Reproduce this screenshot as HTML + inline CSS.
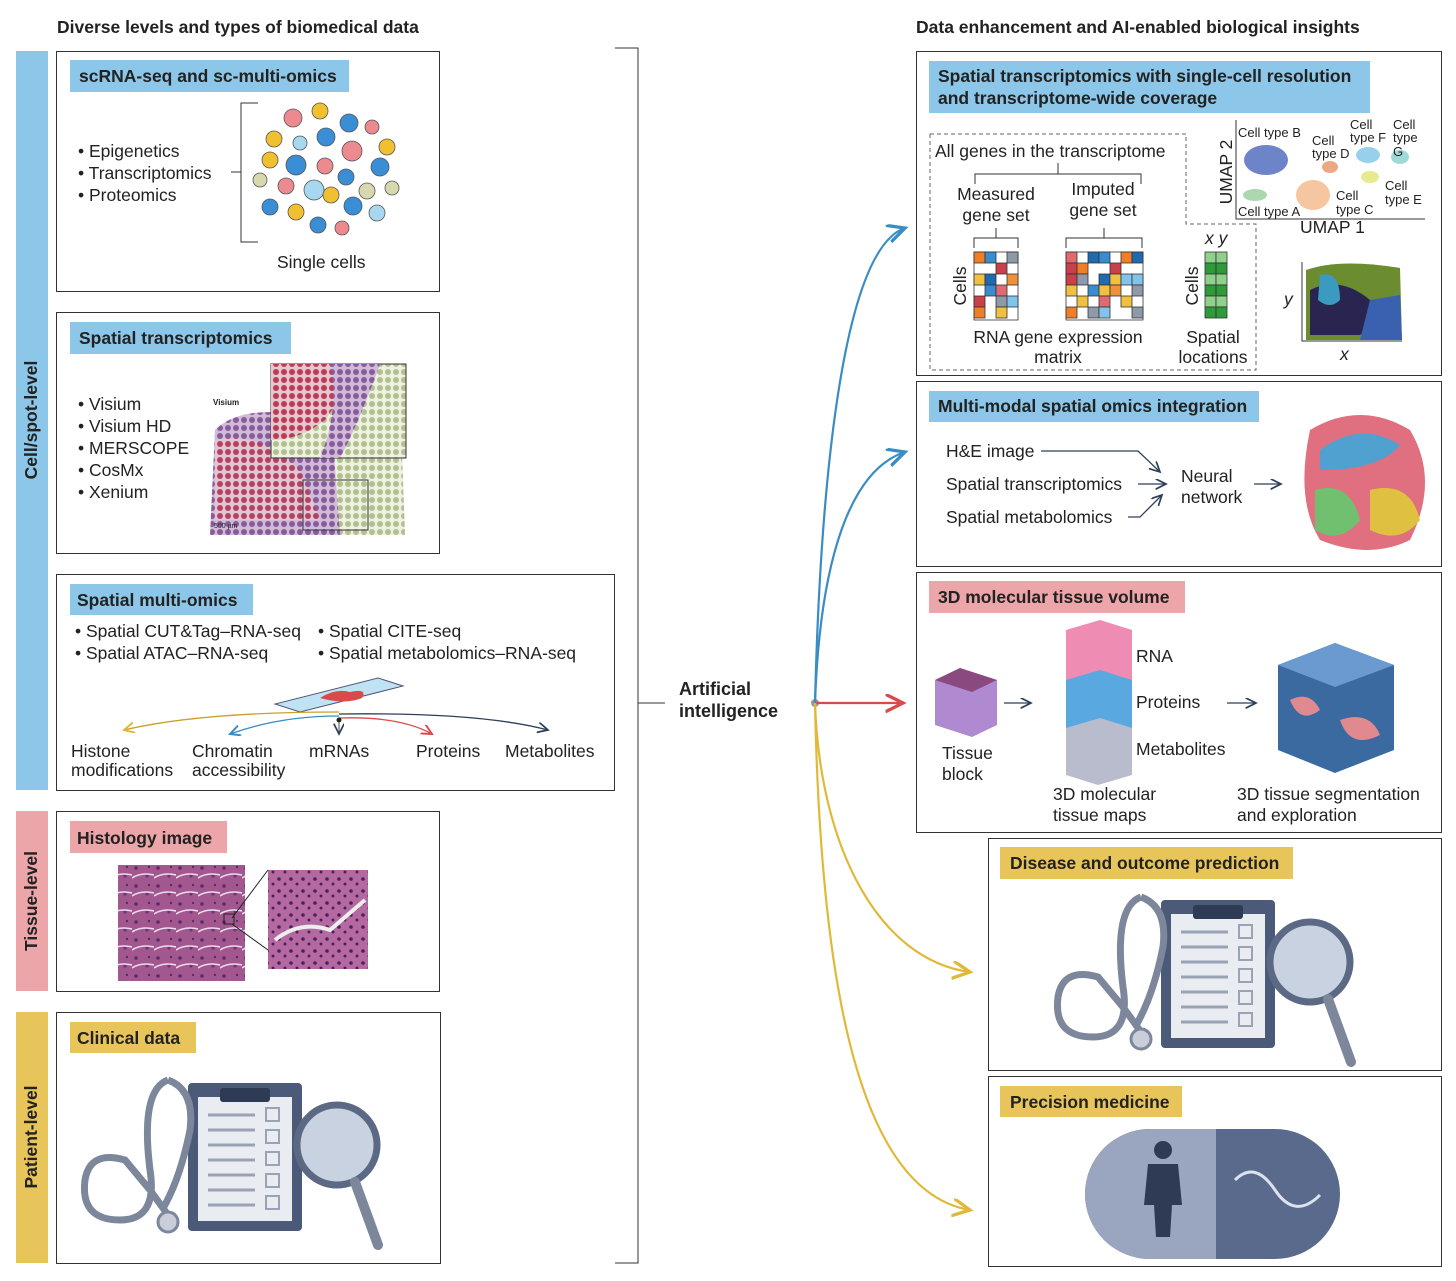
<!DOCTYPE html>
<html><head><meta charset="utf-8"><style>
html,body{margin:0;padding:0;background:#fff}
svg{display:block}
text{font-family:"Liberation Sans",sans-serif;fill:#222}
.b{font-weight:bold}
.t{font-size:17.5px}
.s{font-size:13px}
</style></head><body>
<svg width="1456" height="1281" viewBox="0 0 1456 1281" xmlns="http://www.w3.org/2000/svg">
<defs>
<marker id="ab" markerWidth="10" markerHeight="10" refX="8" refY="4" orient="auto"><path d="M0,0 L8,4 L0,8" fill="none" stroke="#3a8cc4" stroke-width="1.5"/></marker>
<marker id="ar" markerWidth="10" markerHeight="10" refX="8" refY="4" orient="auto"><path d="M0,0 L8,4 L0,8" fill="none" stroke="#d94b4b" stroke-width="1.5"/></marker>
<marker id="ay" markerWidth="10" markerHeight="10" refX="8" refY="4" orient="auto"><path d="M0,0 L8,4 L0,8" fill="none" stroke="#e0b93a" stroke-width="1.5"/></marker>
<marker id="ak" markerWidth="10" markerHeight="10" refX="8" refY="4" orient="auto"><path d="M0,0 L8,4 L0,8" fill="none" stroke="#2d3e5a" stroke-width="1.3"/></marker>
<pattern id="he" width="22" height="18" patternUnits="userSpaceOnUse"><rect width="22" height="18" fill="#a2588f"/><circle cx="4" cy="4" r="1.8" fill="#5a2a6a"/><circle cx="15" cy="12" r="1.6" fill="#6b3577"/><circle cx="17" cy="3" r="1.2" fill="#5a2a6a"/><path d="M0,14 Q9,8 22,11" stroke="#ecdcee" stroke-width="1.6" fill="none"/></pattern>
<pattern id="he2" width="12" height="12" patternUnits="userSpaceOnUse"><rect width="12" height="12" fill="#b46aa0"/><circle cx="3" cy="3" r="1.8" fill="#4a2060"/><circle cx="9" cy="8" r="1.5" fill="#4a2060"/></pattern>
<pattern id="dots" width="8" height="8" patternUnits="userSpaceOnUse"><rect width="8" height="8" fill="#d0bcd6"/><circle cx="4" cy="4" r="3" fill="#8a5a9e"/></pattern>
<pattern id="dotsr" width="8" height="8" patternUnits="userSpaceOnUse"><rect width="8" height="8" fill="#e4c8cf"/><circle cx="4" cy="4" r="3" fill="#c03a55"/></pattern>
<pattern id="dotsg" width="8" height="8" patternUnits="userSpaceOnUse"><rect width="8" height="8" fill="#eef0e0"/><circle cx="4" cy="4" r="3" fill="#b0c090"/></pattern>
</defs>

<text x="57" y="33" class="t b">Diverse levels and types of biomedical data</text>
<text x="916" y="33" class="t b">Data enhancement and AI-enabled biological insights</text>

<rect x="16" y="51" width="32" height="739" fill="#8cc6e8"/>
<text transform="translate(37,420) rotate(-90)" text-anchor="middle" class="t b">Cell/spot-level</text>
<rect x="16" y="811" width="32" height="180" fill="#eca5a8"/>
<text transform="translate(37,901) rotate(-90)" text-anchor="middle" class="t b">Tissue-level</text>
<rect x="16" y="1012" width="32" height="251" fill="#e8c55a"/>
<text transform="translate(37,1137) rotate(-90)" text-anchor="middle" class="t b">Patient-level</text>

<g fill="none" stroke="#333" stroke-width="1">
<rect x="56.5" y="51.5" width="383" height="240"/>
<rect x="56.5" y="312.5" width="383" height="241"/>
<rect x="56.5" y="574.5" width="558" height="216"/>
<rect x="56.5" y="811.5" width="383" height="180"/>
<rect x="56.5" y="1012.5" width="384" height="251"/>
<rect x="916.5" y="51.5" width="525" height="324"/>
<rect x="916.5" y="381.5" width="525" height="185"/>
<rect x="916.5" y="572.5" width="525" height="260"/>
<rect x="988.5" y="838.5" width="453" height="232"/>
<rect x="988.5" y="1076.5" width="453" height="190"/>
<path d="M615,48 H638 V1263 H615 M638,703 H665"/>
</g>

<rect x="70" y="60" width="279" height="32" fill="#8cc6e8"/>
<text x="79" y="82" class="t b">scRNA-seq and sc-multi-omics</text>
<text x="78" y="157" class="t">• Epigenetics</text>
<text x="78" y="179" class="t">• Transcriptomics</text>
<text x="78" y="201" class="t">• Proteomics</text>
<path d="M231,172 H241 M258,103 H241 V242 H258" stroke="#333" fill="none"/>
<g stroke="#555" stroke-width="0.8">
<circle cx="293" cy="118" r="9" fill="#ec8a8f"/><circle cx="320" cy="111" r="8" fill="#f0c030"/><circle cx="349" cy="123" r="9" fill="#3a8ed6"/><circle cx="372" cy="127" r="7" fill="#ec8a8f"/>
<circle cx="274" cy="139" r="8" fill="#f0c030"/><circle cx="300" cy="143" r="7" fill="#a8d8f0"/><circle cx="326" cy="137" r="9" fill="#3a8ed6"/><circle cx="352" cy="151" r="10" fill="#ec8a8f"/><circle cx="387" cy="147" r="8" fill="#f0c030"/>
<circle cx="270" cy="160" r="8" fill="#f0c030"/><circle cx="296" cy="165" r="10" fill="#3a8ed6"/><circle cx="325" cy="166" r="8" fill="#ec8a8f"/><circle cx="346" cy="177" r="8" fill="#3a8ed6"/><circle cx="380" cy="167" r="9" fill="#3a8ed6"/>
<circle cx="260" cy="180" r="7" fill="#d8d8b0"/><circle cx="286" cy="186" r="8" fill="#ec8a8f"/><circle cx="314" cy="190" r="10" fill="#a8d8f0"/><circle cx="367" cy="191" r="8" fill="#d8d8b0"/><circle cx="392" cy="188" r="7" fill="#d8d8b0"/>
<circle cx="270" cy="207" r="8" fill="#3a8ed6"/><circle cx="296" cy="212" r="8" fill="#f0c030"/><circle cx="331" cy="195" r="8" fill="#f0c030"/><circle cx="353" cy="206" r="9" fill="#3a8ed6"/><circle cx="377" cy="213" r="8" fill="#a8d8f0"/>
<circle cx="318" cy="225" r="8" fill="#3a8ed6"/><circle cx="342" cy="228" r="7" fill="#ec8a8f"/>
</g>
<text x="277" y="268" class="t">Single cells</text>

<rect x="70" y="322" width="221" height="32" fill="#8cc6e8"/>
<text x="79" y="344" class="t b">Spatial transcriptomics</text>
<text x="78" y="410" class="t">• Visium</text>
<text x="78" y="432" class="t">• Visium HD</text>
<text x="78" y="454" class="t">• MERSCOPE</text>
<text x="78" y="476" class="t">• CosMx</text>
<text x="78" y="498" class="t">• Xenium</text>
<text x="213" y="405" font-size="8" class="b">Visium</text>
<path d="M215,430 Q240,405 300,415 L380,395 L395,535 L210,535 Z" fill="url(#dots)"/>
<path d="M330,400 L400,395 L405,535 L340,535 Z" fill="url(#dotsg)"/>
<path d="M215,440 Q260,430 300,470 L320,520 L215,520 Z" fill="url(#dotsr)" opacity="0.8"/>
<rect x="271" y="364" width="135" height="94" fill="url(#dotsg)" stroke="#333"/>
<path d="M271,364 H355 Q340,400 325,420 Q300,440 271,440Z" fill="url(#dotsr)"/>
<path d="M330,364 H380 Q360,420 340,458 H320 Q340,410 330,364Z" fill="url(#dots)"/>
<rect x="303" y="480" width="65" height="50" fill="none" stroke="#333"/>
<text x="214" y="528" font-size="7">500 µm</text>

<rect x="70" y="584" width="183" height="31" fill="#8cc6e8"/>
<text x="77" y="606" class="t b">Spatial multi-omics</text>
<text x="75" y="637" class="t">• Spatial CUT&amp;Tag–RNA-seq</text>
<text x="75" y="659" class="t">• Spatial ATAC–RNA-seq</text>
<text x="318" y="637" class="t">• Spatial CITE-seq</text>
<text x="318" y="659" class="t">• Spatial metabolomics–RNA-seq</text>
<path d="M275,704 L300,712 L403,686 L378,678 Z" fill="#bfe2f5" stroke="#557"/>
<path d="M320,698 Q335,688 350,692 Q368,688 362,698 Q345,705 320,698Z" fill="#d94b4b"/>
<path d="M339,712 Q200,712 124,730" fill="none" stroke="#c9a02a" stroke-width="1.3" marker-end="url(#ay)"/>
<path d="M339,716 Q280,716 230,734" fill="none" stroke="#3a8cc4" stroke-width="1.3" marker-end="url(#ab)"/>
<path d="M339,718 Q400,716 432,734" fill="none" stroke="#d94b4b" stroke-width="1.3" marker-end="url(#ar)"/>
<path d="M339,714 Q480,712 548,730" fill="none" stroke="#2d3e5a" stroke-width="1.3" marker-end="url(#ak)"/>
<path d="M339,720 V734" stroke="#777" stroke-width="1.3" marker-end="url(#ak)"/>
<circle cx="339" cy="720" r="2.5" fill="#222"/>
<text x="71" y="757" class="t">Histone</text>
<text x="71" y="776" class="t">modifications</text>
<text x="192" y="757" class="t">Chromatin</text>
<text x="192" y="776" class="t">accessibility</text>
<text x="309" y="757" class="t">mRNAs</text>
<text x="416" y="757" class="t">Proteins</text>
<text x="505" y="757" class="t">Metabolites</text>

<rect x="70" y="821" width="157" height="32" fill="#eca5a8"/>
<text x="77" y="844" class="t b">Histology image</text>
<rect x="118" y="865" width="127" height="116" fill="url(#he)"/>
<rect x="268" y="870" width="100" height="99" fill="url(#he2)"/>
<path d="M275,940 Q300,920 330,930 L365,900" stroke="#eee" stroke-width="4" fill="none"/>
<path d="M232,918 L268,870 M232,924 L268,950" stroke="#222"/>
<rect x="224" y="914" width="10" height="10" fill="none" stroke="#222"/>

<rect x="70" y="1022" width="126" height="31" fill="#e8c55a"/>
<text x="77" y="1044" class="t b">Clinical data</text>
<g id="clin">
<rect x="188" y="1083" width="114" height="148" rx="4" fill="#4b5a78"/>
<rect x="198" y="1097" width="94" height="124" fill="#e9ecf1"/>
<rect x="220" y="1088" width="50" height="14" rx="3" fill="#2f3b55"/>
<g stroke="#9aa3b5" stroke-width="3"><path d="M208,1115 H255 M208,1130 H255 M208,1145 H255 M208,1160 H255 M208,1175 H255 M208,1190 H255 M208,1205 H255"/></g>
<g fill="none" stroke="#9aa3b5" stroke-width="2"><rect x="266" y="1108" width="13" height="13"/><rect x="266" y="1130" width="13" height="13"/><rect x="266" y="1152" width="13" height="13"/><rect x="266" y="1174" width="13" height="13"/><rect x="266" y="1196" width="13" height="13"/></g>
<path d="M168,1080 Q140,1090 150,1170 Q158,1220 120,1220 Q80,1220 85,1180 Q90,1150 125,1160 L150,1190 L168,1215" fill="none" stroke="#7d879c" stroke-width="7"/>
<path d="M168,1080 Q195,1090 190,1130 Q180,1180 162,1210" fill="none" stroke="#7d879c" stroke-width="7"/>
<circle cx="168" cy="1222" r="10" fill="#c9ced9" stroke="#7d879c" stroke-width="3"/>
<circle cx="337" cy="1145" r="40" fill="#c9d2e0" stroke="#5c6985" stroke-width="7"/>
<path d="M355,1182 L378,1245" stroke="#7d879c" stroke-width="10" stroke-linecap="round"/>
</g>

<text x="679" y="695" class="b" font-size="18">Artificial</text>
<text x="679" y="717" class="b" font-size="18">intelligence</text>
<circle cx="815" cy="703" r="4" fill="#999"/>
<path d="M815,703 C820,500 840,250 905,228" fill="none" stroke="#3a8cc4" stroke-width="2.2" marker-end="url(#ab)"/>
<path d="M815,703 C820,560 850,470 905,452" fill="none" stroke="#3a8cc4" stroke-width="2.2" marker-end="url(#ab)"/>
<path d="M815,703 H903" fill="none" stroke="#d94b4b" stroke-width="2.2" marker-end="url(#ar)"/>
<path d="M815,703 C820,850 880,960 970,972" fill="none" stroke="#e0b93a" stroke-width="2.2" marker-end="url(#ay)"/>
<path d="M815,703 C820,950 850,1190 970,1210" fill="none" stroke="#e0b93a" stroke-width="2.2" marker-end="url(#ay)"/>

<rect x="929" y="61" width="441" height="52" fill="#8cc6e8"/>
<text x="938" y="82" class="t b">Spatial transcriptomics with single-cell resolution</text>
<text x="938" y="104" class="t b">and transcriptome-wide coverage</text>
<path d="M930,134 H1186 V224 H1256 V370 H930 Z" fill="none" stroke="#666" stroke-dasharray="4,3"/>
<text x="935" y="157" class="t">All genes in the transcriptome</text>
<path d="M1058,163 V174 M975,184 V174 H1141 V184" fill="none" stroke="#333"/>
<text x="996" y="200" class="t" text-anchor="middle">Measured</text>
<text x="996" y="221" class="t" text-anchor="middle">gene set</text>
<text x="1103" y="195" class="t" text-anchor="middle">Imputed</text>
<text x="1103" y="216" class="t" text-anchor="middle">gene set</text>
<path d="M996,228 V238 M974,248 V238 H1018 V248 M1104,228 V238 M1066,248 V238 H1142 V248" fill="none" stroke="#333"/>
<g stroke="#333" stroke-width="0.8">
<rect x="974" y="252" width="44" height="68" fill="#fff"/>
<rect x="974" y="252" width="11" height="11" fill="#f07e26"/><rect x="985" y="252" width="11" height="11" fill="#3a8cd0"/><rect x="1007" y="252" width="11" height="11" fill="#8e9aaa"/>
<rect x="996" y="263" width="11" height="11" fill="#c9404a"/><rect x="974" y="274" width="11" height="11" fill="#f0c040"/><rect x="985" y="274" width="11" height="11" fill="#1f6ab0"/><rect x="1007" y="274" width="11" height="11" fill="#f0903a"/>
<rect x="985" y="285" width="11" height="11" fill="#3a8cd0"/><rect x="996" y="285" width="11" height="11" fill="#e06a70"/><rect x="974" y="296" width="11" height="11" fill="#c9404a"/><rect x="996" y="296" width="11" height="11" fill="#8e9aaa"/><rect x="1007" y="296" width="11" height="11" fill="#80c4ec"/>
<rect x="974" y="307" width="11" height="11" fill="#f07e26"/><rect x="996" y="307" width="11" height="11" fill="#f0c040"/>
<rect x="1066" y="252" width="77" height="68" fill="#fff"/>
<rect x="1066" y="252" width="11" height="11" fill="#e06a70"/><rect x="1088" y="252" width="11" height="11" fill="#1f6ab0"/><rect x="1099" y="252" width="11" height="11" fill="#3a8cd0"/><rect x="1121" y="252" width="11" height="11" fill="#f07e26"/><rect x="1132" y="252" width="11" height="11" fill="#1f6ab0"/>
<rect x="1066" y="263" width="11" height="11" fill="#c9404a"/><rect x="1077" y="263" width="11" height="11" fill="#f07e26"/><rect x="1110" y="263" width="11" height="11" fill="#c9404a"/>
<rect x="1066" y="274" width="11" height="11" fill="#c9404a"/><rect x="1077" y="274" width="11" height="11" fill="#8e9aaa"/><rect x="1099" y="274" width="11" height="11" fill="#1f6ab0"/><rect x="1110" y="274" width="11" height="11" fill="#f0c040"/><rect x="1121" y="274" width="11" height="11" fill="#80c4ec"/><rect x="1132" y="274" width="11" height="11" fill="#80c4ec"/>
<rect x="1066" y="285" width="11" height="11" fill="#f0c040"/><rect x="1088" y="285" width="11" height="11" fill="#3a8cd0"/><rect x="1099" y="285" width="11" height="11" fill="#f0c040"/><rect x="1110" y="285" width="11" height="11" fill="#f0903a"/><rect x="1132" y="285" width="11" height="11" fill="#8e9aaa"/>
<rect x="1077" y="296" width="11" height="11" fill="#f0c040"/><rect x="1099" y="296" width="11" height="11" fill="#e06a70"/><rect x="1121" y="296" width="11" height="11" fill="#f0c040"/>
<rect x="1066" y="307" width="11" height="11" fill="#f07e26"/><rect x="1088" y="307" width="11" height="11" fill="#8e9aaa"/><rect x="1099" y="307" width="11" height="11" fill="#80c4ec"/><rect x="1132" y="307" width="11" height="11" fill="#8e9aaa"/>
<rect x="1205" y="252" width="11" height="11" fill="#8fd08a"/><rect x="1216" y="252" width="11" height="11" fill="#8fd08a"/>
<rect x="1205" y="263" width="11" height="11" fill="#2f9a3a"/><rect x="1216" y="263" width="11" height="11" fill="#2f9a3a"/>
<rect x="1205" y="274" width="11" height="11" fill="#8fd08a"/><rect x="1216" y="274" width="11" height="11" fill="#8fd08a"/>
<rect x="1205" y="285" width="11" height="11" fill="#2f9a3a"/><rect x="1216" y="285" width="11" height="11" fill="#2f9a3a"/>
<rect x="1205" y="296" width="11" height="11" fill="#8fd08a"/><rect x="1216" y="296" width="11" height="11" fill="#8fd08a"/>
<rect x="1205" y="307" width="11" height="11" fill="#2f9a3a"/><rect x="1216" y="307" width="11" height="11" fill="#2f9a3a"/>
</g>
<text transform="translate(966,286) rotate(-90)" class="t" text-anchor="middle">Cells</text>
<text transform="translate(1198,286) rotate(-90)" class="t" text-anchor="middle">Cells</text>
<text x="1205" y="244" class="t" font-style="italic">x y</text>
<text x="1058" y="343" class="t" text-anchor="middle">RNA gene expression</text>
<text x="1058" y="363" class="t" text-anchor="middle">matrix</text>
<text x="1213" y="343" class="t" text-anchor="middle">Spatial</text>
<text x="1213" y="363" class="t" text-anchor="middle">locations</text>
<path d="M1236,120 V219 H1425" fill="none" stroke="#333"/>
<text transform="translate(1232,172) rotate(-90)" class="t" text-anchor="middle">UMAP 2</text>
<text x="1300" y="233" class="t">UMAP 1</text>
<ellipse cx="1266" cy="160" rx="22" ry="15" fill="#3050b0" opacity="0.7"/>
<ellipse cx="1255" cy="195" rx="12" ry="6" fill="#5ab060" opacity="0.5"/>
<ellipse cx="1313" cy="195" rx="17" ry="15" fill="#f0a060" opacity="0.6"/>
<ellipse cx="1330" cy="167" rx="8" ry="6" fill="#e07030" opacity="0.6"/>
<ellipse cx="1368" cy="155" rx="12" ry="8" fill="#50b0e0" opacity="0.6"/>
<ellipse cx="1370" cy="177" rx="9" ry="6" fill="#e0e060" opacity="0.7"/>
<ellipse cx="1400" cy="157" rx="9" ry="7" fill="#60c0c0" opacity="0.6"/>
<g font-size="13"><text x="1238" y="137">Cell type B</text><text x="1312" y="145">Cell</text><text x="1312" y="158">type D</text><text x="1350" y="129">Cell</text><text x="1350" y="142">type F</text><text x="1393" y="129">Cell</text><text x="1393" y="142">type</text><text x="1393" y="156">G</text><text x="1385" y="190">Cell</text><text x="1385" y="204">type E</text><text x="1336" y="200">Cell</text><text x="1336" y="214">type C</text><text x="1238" y="216">Cell type A</text></g>
<path d="M1302,262 V341 H1402" fill="none" stroke="#333"/>
<path d="M1306,270 Q1340,258 1400,268 L1402,340 L1306,340 Z" fill="#6b8d30"/>
<path d="M1310,290 Q1340,275 1370,300 Q1380,320 1360,335 L1310,335 Z" fill="#2a2550"/>
<path d="M1320,275 Q1340,270 1340,300 Q1330,310 1318,300Z" fill="#3a9ac0"/>
<path d="M1370,300 L1400,295 L1402,340 L1360,340Z" fill="#3a60b0"/>
<text x="1284" y="305" class="t" font-style="italic">y</text>
<text x="1340" y="360" class="t" font-style="italic">x</text>

<rect x="929" y="391" width="330" height="31" fill="#8cc6e8"/>
<text x="938" y="412" class="t b">Multi-modal spatial omics integration</text>
<text x="946" y="457" class="t">H&amp;E image</text>
<text x="946" y="490" class="t">Spatial transcriptomics</text>
<text x="946" y="523" class="t">Spatial metabolomics</text>
<g fill="none" stroke="#2d3e5a" stroke-width="1.3">
<path d="M1041,451 H1138 L1160,472" marker-end="url(#ak)"/>
<path d="M1138,484 H1166" marker-end="url(#ak)"/>
<path d="M1128,517 H1140 L1162,495" marker-end="url(#ak)"/>
<path d="M1254,484 H1281" marker-end="url(#ak)"/>
</g>
<text x="1181" y="482" class="t">Neural</text>
<text x="1181" y="503" class="t">network</text>
<path d="M1310,430 Q1360,400 1410,430 Q1440,480 1410,540 Q1370,560 1320,540 Q1295,500 1310,430Z" fill="#e07080"/>
<path d="M1320,450 Q1360,420 1400,445 Q1380,470 1320,470Z" fill="#50a0d0"/>
<path d="M1315,490 Q1350,480 1360,520 Q1340,545 1315,530Z" fill="#70c070"/>
<path d="M1370,490 Q1410,480 1420,520 Q1400,545 1370,530Z" fill="#e0c040"/>

<rect x="929" y="581" width="256" height="32" fill="#eca5a8"/>
<text x="938" y="603" class="t b">3D molecular tissue volume</text>
<path d="M935,680 L960,668 L997,680 L997,725 L972,737 L935,725Z" fill="#b08ad0"/>
<path d="M935,680 L960,668 L997,680 L972,692Z" fill="#8a4a80"/>
<text x="942" y="759" class="t">Tissue</text>
<text x="942" y="780" class="t">block</text>
<path d="M1004,703 H1031" stroke="#2d3e5a" stroke-width="1.3" marker-end="url(#ak)"/>
<path d="M1066,630 L1100,620 L1132,630 L1132,680 L1098,690 L1066,680Z" fill="#ee8cb4"/>
<path d="M1066,680 L1100,670 L1132,680 L1132,728 L1098,738 L1066,728Z" fill="#5aa8e0"/>
<path d="M1066,728 L1100,718 L1132,728 L1132,775 L1098,785 L1066,775Z" fill="#b8bccc"/>
<text x="1136" y="662" class="t">RNA</text>
<text x="1136" y="708" class="t">Proteins</text>
<text x="1136" y="755" class="t">Metabolites</text>
<text x="1053" y="800" class="t">3D molecular</text>
<text x="1053" y="821" class="t">tissue maps</text>
<path d="M1227,703 H1256" stroke="#2d3e5a" stroke-width="1.3" marker-end="url(#ak)"/>
<path d="M1278,665 L1335,643 L1394,665 L1394,750 L1335,773 L1278,750Z" fill="#3a6aa0"/>
<path d="M1278,665 L1335,643 L1394,665 L1335,687Z" fill="#6a9ad0"/>
<path d="M1290,700 Q1310,690 1320,710 Q1300,725 1290,700Z M1340,720 Q1370,710 1380,735 Q1350,750 1340,720Z" fill="#e08a90"/>
<text x="1237" y="800" class="t">3D tissue segmentation</text>
<text x="1237" y="821" class="t">and exploration</text>

<rect x="1000" y="847" width="293" height="32" fill="#e8c55a"/>
<text x="1010" y="869" class="t b">Disease and outcome prediction</text>
<use href="#clin" transform="translate(973,-183)"/>

<rect x="1000" y="1086" width="182" height="31" fill="#e8c55a"/>
<text x="1010" y="1108" class="t b">Precision medicine</text>
<path d="M1150,1129 H1275 A65,65 0 0 1 1275,1259 H1150 A65,65 0 0 1 1150,1129Z" fill="#5a6a8c"/>
<path d="M1150,1129 H1216 V1259 H1150 A65,65 0 0 1 1150,1129Z" fill="#9aa6c0"/>
<circle cx="1163" cy="1150" r="9" fill="#2f3b55"/>
<path d="M1148,1164 H1178 L1182,1205 H1172 L1170,1237 H1156 L1154,1205 H1144Z" fill="#2f3b55"/>
<path d="M1235,1180 Q1255,1160 1275,1190 Q1295,1220 1320,1195" fill="none" stroke="#dde3ee" stroke-width="3"/>
</svg>
</body></html>
